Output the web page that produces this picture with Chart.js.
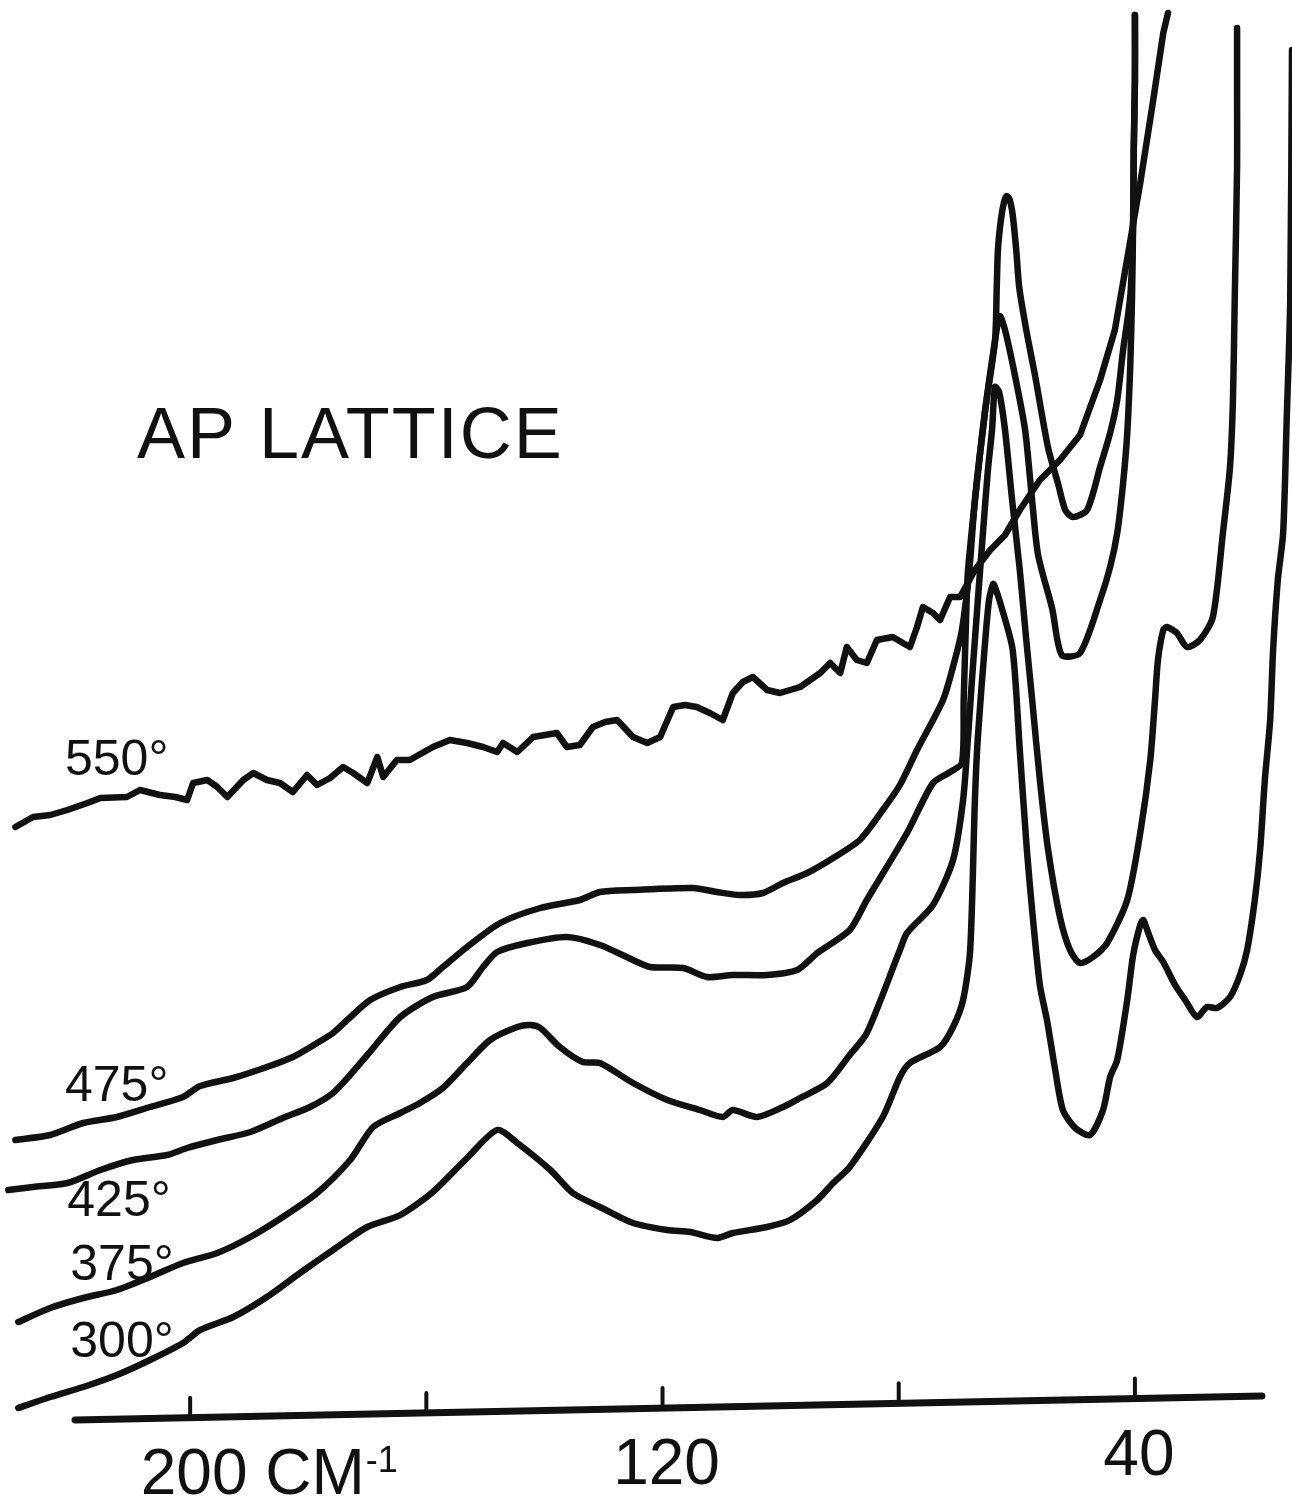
<!DOCTYPE html>
<html>
<head>
<meta charset="utf-8">
<script src="https://cdn.jsdelivr.net/npm/chart.js@4.4.1/dist/chart.umd.min.js"></script>
<style>
html,body{margin:0;padding:0;background:#ffffff;}
canvas{display:block;}
</style>
</head>
<body>
<canvas id="c" width="1292" height="1500"></canvas>
<script>
// ---- text ----
const chartTitle = 'AP LATTICE';
const xTicks = [200, 160, 120, 80, 40];
const xTickLabels = ['200', '', '120', '', '40'];
const unitLabel = 'CM';
const unitExponent = '-1';
const seriesNames = ['550°', '475°', '425°', '375°', '300°'];

// ---- series: [wavenumber (cm-1), relative absorption] ----
const t550 = [[229.6,67.3],[226.6,68.3],[223.7,68.5],[220.8,69.0],[217.4,69.7],[215.2,70.2],[210.7,70.3],[208.5,71.0],[205.1,70.5],[202.5,70.3],[200.5,70.0],[199.5,71.7],[197.1,72.0],[195.4,71.3],[193.7,70.3],[191.0,72.0],[189.3,72.7],[187.0,72.0],[184.8,71.7],[182.6,70.8],[180.2,72.5],[178.5,71.5],[176.3,72.2],[174.1,73.3],[172.4,72.7],[170.0,71.7],[168.3,74.3],[167.3,72.3],[165.0,74.0],[162.8,74.0],[158.9,75.3],[156.0,76.0],[153.1,75.7],[150.4,75.3],[148.0,74.8],[147.0,75.7],[144.6,74.8],[141.9,76.3],[137.9,76.7],[136.2,75.3],[134.0,75.5],[131.8,77.3],[129.7,77.8],[127.7,78.0],[125.0,76.3],[122.6,75.7],[120.4,76.3],[118.2,79.3],[116.2,79.5],[114.2,79.3],[112.0,78.7],[109.8,78.0],[108.1,80.7],[106.4,81.8],[104.7,82.3],[102.3,81.0],[100.1,80.7],[96.7,81.3],[93.3,82.7],[91.6,83.7],[89.9,82.7],[88.8,85.3],[87.1,84.0],[85.4,83.7],[83.7,86.0],[81.0,86.3],[79.3,85.7],[78.1,85.3],[76.9,87.3],[75.9,89.3],[74.2,88.7],[73.0,88.0],[71.3,90.3],[69.6,90.3],[67.1,93.0],[64.5,95.0],[62.0,96.5],[59.5,99.0],[56.1,102.0],[52.7,104.0],[49.3,106.5],[45.9,112.0],[43.4,117.0],[41.2,124.5],[39.1,131.7],[36.9,140.0],[35.2,146.7],[34.4,148.7]];

const t475 = [[229.6,36.0],[223.7,36.5],[218.1,37.7],[212.4,38.3],[206.8,39.3],[201.2,40.3],[198.3,41.4],[192.7,42.2],[187.0,43.3],[182.6,44.3],[178.5,45.7],[175.8,46.7],[173.4,48.0],[169.5,50.0],[164.4,51.3],[159.9,52.0],[157.2,53.3],[153.1,55.3],[147.5,57.7],[140.7,59.2],[134.0,60.0],[130.6,60.8],[125.0,61.0],[114.8,61.2],[110.8,60.8],[106.9,60.5],[103.0,60.7],[99.6,61.7],[95.5,62.7],[91.1,64.2],[86.6,66.0],[82.7,69.0],[79.8,71.5],[76.9,75.0],[72.5,80.0],[70.5,84.0],[69.3,87.0],[68.4,91.0],[67.9,94.0],[67.1,100.0],[65.4,108.8],[63.7,115.9],[63.4,121.3],[63.2,125.0],[62.7,128.0],[62.2,129.7],[61.7,130.4],[61.2,130.0],[60.7,128.5],[60.1,125.0],[59.6,121.3],[58.4,117.0],[56.9,112.4],[54.7,105.2],[53.0,101.6],[51.8,99.0],[50.5,98.3],[48.1,99.0],[45.9,103.3],[44.2,106.7],[43.0,110.0],[42.0,115.0],[41.2,118.3],[40.7,121.0],[40.3,128.0],[40.2,135.0],[40.0,142.0],[40.0,148.5]];

const t425 = [[230.8,31.0],[226.6,31.3],[220.8,31.7],[215.2,33.0],[209.7,34.0],[203.9,34.5],[200.5,35.2],[195.4,36.0],[189.8,36.8],[184.3,38.2],[179.7,39.3],[175.8,40.7],[172.9,42.5],[170.0,44.5],[164.4,48.3],[158.9,50.3],[153.1,51.3],[150.4,53.3],[148.0,54.8],[142.9,55.7],[136.2,56.3],[130.6,55.5],[125.0,54.0],[122.1,53.3],[116.5,53.2],[112.5,52.3],[108.1,52.5],[102.3,52.5],[97.2,53.0],[93.8,54.7],[88.3,57.0],[85.4,60.0],[78.6,66.7],[74.2,71.7],[71.3,72.8],[69.3,73.7],[69.0,80.0],[68.6,88.0],[68.3,92.7],[67.1,99.9],[65.4,108.8],[63.7,115.9],[62.9,118.4],[62.0,117.0],[60.3,112.4],[58.6,107.0],[57.4,99.9],[56.4,94.5],[54.0,89.1],[52.4,84.5],[49.3,84.7],[45.9,90.0],[44.2,93.3],[43.0,96.7],[42.0,101.7],[41.3,106.7],[40.8,113.3],[40.5,120.0],[40.3,128.0],[40.2,135.0],[40.0,142.0],[40.0,148.5]];

const t375 = [[229.1,17.8],[223.7,19.2],[218.1,20.2],[212.4,21.0],[206.8,22.3],[201.2,23.7],[195.4,24.7],[189.8,26.3],[184.3,28.3],[178.5,30.7],[172.9,34.0],[169.0,37.3],[164.4,38.7],[161.1,39.7],[157.2,41.2],[153.1,43.7],[149.2,46.0],[144.6,47.3],[142.4,47.5],[140.7,47.2],[137.4,45.3],[133.5,43.8],[130.6,43.7],[125.0,41.7],[119.2,40.0],[113.7,39.0],[109.8,38.3],[108.1,39.0],[104.0,38.3],[99.6,39.3],[96.7,40.2],[92.1,41.7],[88.3,44.5],[85.4,46.7],[79.8,55.0],[78.6,56.7],[74.2,59.5],[70.8,64.0],[69.1,70.0],[68.3,76.0],[67.6,82.0],[66.6,90.0],[65.7,97.0],[64.9,103.0],[64.2,107.0],[63.7,111.3],[63.0,110.8],[62.0,107.0],[60.8,100.0],[59.5,93.0],[58.4,86.0],[57.4,80.0],[56.1,72.0],[54.7,65.0],[52.7,58.3],[51.0,55.0],[49.3,53.7],[47.1,54.3],[44.7,55.7],[41.3,60.0],[39.1,66.7],[37.4,74.0],[36.6,80.0],[36.1,84.0],[35.2,87.0],[34.6,87.3],[32.9,86.7],[31.2,85.3],[29.0,86.0],[26.8,88.3],[25.1,96.7],[23.9,103.3],[23.4,110.0],[23.1,120.0],[22.7,133.3],[22.7,140.0],[22.7,147.2]];

const t300 = [[229.1,9.2],[223.7,10.3],[218.1,11.3],[212.4,12.5],[206.8,14.0],[201.2,15.7],[198.3,17.0],[192.7,18.3],[187.0,20.3],[181.4,22.7],[175.8,25.0],[170.0,27.3],[164.4,28.5],[158.9,30.8],[153.1,34.2],[148.0,37.0],[144.6,35.7],[139.0,33.0],[135.2,30.7],[130.6,29.3],[125.0,27.7],[119.2,27.0],[115.3,26.8],[110.8,26.2],[108.1,26.7],[102.3,27.3],[98.4,28.0],[93.8,30.0],[91.1,31.7],[88.3,33.3],[82.7,38.3],[79.8,42.3],[78.1,43.7],[73.0,45.3],[70.8,47.3],[69.1,50.0],[67.9,55.0],[67.1,70.0],[66.6,76.3],[65.4,85.6],[64.7,90.0],[64.0,91.6],[63.4,90.8],[62.5,89.1],[60.7,85.0],[59.5,75.0],[58.3,65.0],[57.3,58.3],[56.1,51.5],[54.9,48.0],[53.5,43.0],[52.2,39.0],[50.1,37.2],[47.6,36.5],[45.4,39.0],[44.2,42.3],[43.0,44.0],[41.3,50.0],[40.3,54.5],[39.1,57.5],[38.6,58.0],[37.8,56.8],[36.6,55.0],[35.2,53.8],[33.2,51.5],[31.5,50.0],[29.5,48.3],[27.8,49.3],[26.1,49.2],[23.9,50.3],[22.2,52.5],[21.0,55.0],[19.7,60.0],[18.8,65.0],[18.0,72.0],[17.1,78.0],[16.6,85.0],[15.8,92.0],[14.9,96.7],[14.3,108.0],[13.7,120.0],[13.4,145.0]];

const seriesData = [t550, t475, t425, t375, t300];

// ---- layout / style (not data) ----
const INK = '#111111';
const FONT = '"Liberation Sans", Arial, sans-serif';
const axisSpan = { from: 219.5, to: 18.5, yFrom: 8.0, yTo: 10.4 };
const titleAnchor = { x: 209.0, y: 104.2 };
const labelAnchors = [
  { x: 221.2, y: 72.5 },
  { x: 221.2, y: 39.9 },
  { x: 220.8, y: 28.4 },
  { x: 220.3, y: 22.0 },
  { x: 220.3, y: 14.3 }
];

const paperPlugin = {
  id: 'paper',
  afterDatasetsDraw(chart) {
    const { ctx, scales } = chart;
    const xs = scales.x, ys = scales.y;
    ctx.save();
    ctx.strokeStyle = INK;
    ctx.fillStyle = INK;
    ctx.lineCap = 'round';

    // axis baseline
    const ax0 = xs.getPixelForValue(axisSpan.from), ay0 = ys.getPixelForValue(axisSpan.yFrom);
    const ax1 = xs.getPixelForValue(axisSpan.to), ay1 = ys.getPixelForValue(axisSpan.yTo);
    ctx.lineWidth = 7;
    ctx.beginPath(); ctx.moveTo(ax0, ay0); ctx.lineTo(ax1, ay1); ctx.stroke();

    // ticks and tick labels
    ctx.lineWidth = 4;
    ctx.textBaseline = 'alphabetic';
    xTicks.forEach((v, i) => {
      const px = xs.getPixelForValue(v);
      const t = (px - ax0) / (ax1 - ax0);
      const py = ay0 + t * (ay1 - ay0);
      ctx.beginPath(); ctx.moveTo(px, py); ctx.lineTo(px, py - 20); ctx.stroke();
      const lab = xTickLabels[i];
      if (!lab) return;
      ctx.font = '64px ' + FONT;
      const w = ctx.measureText(lab).width;
      const lx = px - w / 2 + 4;
      const ly = py + 76;
      ctx.textAlign = 'left';
      ctx.fillText(lab, lx, ly);
      if (i === 0) {
        const sp = ctx.measureText(' ').width;
        const ux = lx + w + sp;
        ctx.fillText(unitLabel, ux, ly);
        const uw = ctx.measureText(unitLabel).width;
        ctx.font = '36px ' + FONT;
        ctx.fillText(unitExponent, ux + uw + 1, ly - 22);
      }
    });

    // title
    ctx.font = '72px ' + FONT;
    ctx.textAlign = 'left';
    if ('letterSpacing' in ctx) ctx.letterSpacing = '2px';
    ctx.fillText(chartTitle, xs.getPixelForValue(titleAnchor.x), ys.getPixelForValue(titleAnchor.y));
    if ('letterSpacing' in ctx) ctx.letterSpacing = '0px';

    // curve labels
    ctx.font = '50px ' + FONT;
    seriesNames.forEach((name, i) => {
      const a = labelAnchors[i];
      ctx.fillText(name, xs.getPixelForValue(a.x), ys.getPixelForValue(a.y));
    });
    ctx.restore();
  }
};

new Chart(document.getElementById('c'), {
  type: 'line',
  data: {
    datasets: seriesData.map((pts, i) => ({
      label: seriesNames[i],
      data: pts.map(([wx, wy]) => ({ x: wx, y: wy })),
      borderColor: INK,
      borderWidth: 6.5,
      pointRadius: 0,
      fill: false,
      tension: i === 0 ? 0 : 0.25,
      borderJoinStyle: 'round',
      borderCapStyle: 'round'
    }))
  },
  options: {
    responsive: false,
    animation: false,
    devicePixelRatio: 1,
    layout: { padding: 0 },
    scales: {
      x: { type: 'linear', reverse: true, min: 13.4, max: 232.2, display: false },
      y: { type: 'linear', min: 0, max: 150, display: false }
    },
    plugins: { legend: { display: false }, tooltip: { enabled: false } }
  },
  plugins: [paperPlugin]
});
</script>
</body>
</html>
